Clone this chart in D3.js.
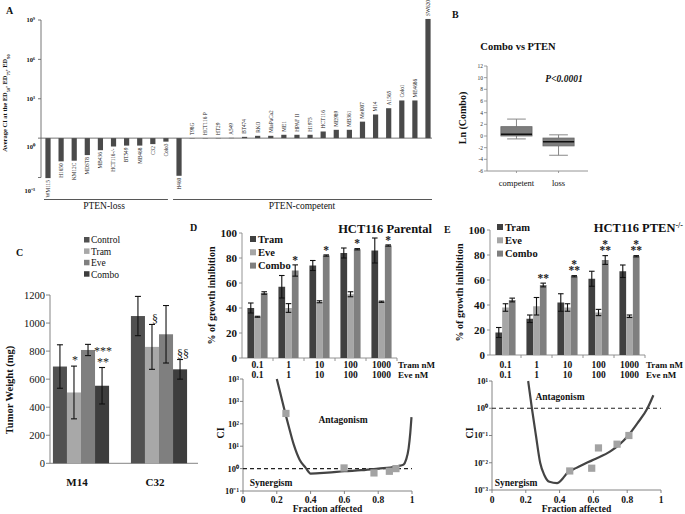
<!DOCTYPE html>
<html>
<head>
<meta charset="utf-8">
<script src="https://cdn.jsdelivr.net/npm/d3@7/dist/d3.min.js"></script>
<style>
html,body{margin:0;padding:0;background:#fff;}
svg{display:block;}
text{font-family:"Liberation Serif","Times New Roman",serif;}
</style>
</head>
<body>
<svg id="fig" width="685" height="514"></svg>
<script>
// ---------------- Panel A data ----------------
const aLossLines = ["WM115","H1650","KM12C","MDST8","MB436","HCT116-/-","BT549","MB468","C32","Colo3"];
const aLossCI = [9e-4, 0.017, 0.019, 0.051, 0.12, 0.23, 0.27, 0.27, 0.35, 0.54];
const aCompLines = ["H460","T98G","HCT116 P","HT29","A549","BT474","RKO","MiaPaCa2","ME1","HPAF II","H1975","HCT116","ME989","MB361","Mel007","M14","A1565","Colo1","ME4686","SW620"];
const aCompCI = [1.35e-3, 1.02, 1.02, 1.03, 1.05, 1.25, 1.5, 1.5, 1.8, 1.8, 1.8, 3.2, 4.3, 4.3, 18, 63, 190, 740, 740, 1.2e9];
const aTickValues = [1e9, 1e6, 1e3, 1, 1e-3];
const aTickLabels = ["10\u2079","10\u2076","10\u00B3","10\u2070","10\u207B\u00B3"];
const aGroupLabels = ["PTEN-loss","PTEN-competent"];

// ---------------- Panel B data ----------------
const bGroups = ["competent","loss"];
const bWhiskerLow = [-0.5, -3.3];
const bQ1 = [0.0, -1.7];
const bMedian = [0.3, -1.0];
const bQ3 = [1.6, -0.35];
const bWhiskerHigh = [2.9, 0.2];
const bTicks = [12,10,8,6,4,2,0,-2,-4,-6];

// ---------------- Panel C data ----------------
const cCategories = ["M14","C32"];
const cSeries = ["Control","Tram","Eve","Combo"];
const cControl = [690, 1050], cControlErr = [155, 140];
const cTram = [505, 830], cTramErr = [188, 160];
const cEve = [808, 920], cEveErr = [40, 205];
const cCombo = [553, 670], cComboErr = [130, 70];
const cControlMarks = [[],[]], cTramMarks = [["*"],["\u00A7"]], cEveMarks = [[],[]], cComboMarks = [["**","***"],["\u00A7\u00A7"]];
const cTicks = [0,200,400,600,800,1000,1200];

// ---------------- Panel D/E data ----------------
const doseTram = ["0.1","1","10","100","1000"];
const doseEve = ["0.1","1","10","100","1000"];
const growthSeries = ["Tram","Eve","Combo"];
const growthTicks = [0,20,40,60,80,100];

const dTram = [40, 57, 74, 84, 86], dTramErr = [4, 9, 4, 4, 10];
const dEve = [33, 40, 45, 51, 45], dEveErr = [0.4, 3.5, 0.8, 2, 0.5];
const dCombo = [52, 70, 82, 87, 90], dComboErr = [1, 4.5, 0.5, 0.5, 0.5];
const dComboMarks = [[],["*"],["*"],["*"],["*"]];

const eTram = [18, 29, 42, 61, 67], eTramErr = [4, 3, 7, 6, 5];
const eEve = [38, 39, 38, 34, 31], eEveErr = [3, 7, 3, 2.5, 1];
const eCombo = [44, 56, 63, 76, 79], eComboErr = [1.5, 1.5, 0.5, 3.5, 0.5];
const eComboMarks = [[],["**"],["**","*"],["**","*"],["**","*"]];

// CI (Fa-CI) plots
const faTicks = [0,0.2,0.4,0.6,0.8,1];
const dCiTicks = [0.1,1,10,100,1000,10000];
const dCiTickLabels = ["10\u207B\u00B9","10\u2070","10\u00B9","10\u00B2","10\u00B3","10\u00B3"];
const dCurveFa = [0.2, 0.22, 0.25, 0.27, 0.3, 0.335, 0.37, 0.4, 0.5, 0.6, 0.7, 0.8, 0.9, 0.93, 0.95, 0.965, 0.98, 0.99, 0.997];
const dCurveCI = [10000, 2500, 300, 80, 12, 2.5, 1.1, 0.6, 0.66, 0.76, 0.85, 1.0, 1.2, 1.35, 1.5, 2.5, 8, 40, 200];
const dPointFa = [0.254, 0.598, 0.775, 0.866, 0.905];
const dPointCI = [290, 1.07, 0.64, 0.76, 1.0];

const eCiTicks = [0.001,0.01,0.1,1,10];
const eCiTickLabels = ["10\u207B\u00B3","10\u207B\u00B2","10\u207B\u00B9","10\u2070","10\u00B9"];
const eCurveFa = [0.214, 0.236, 0.26, 0.285, 0.31, 0.34, 0.385, 0.42, 0.445, 0.5, 0.6, 0.7, 0.8, 0.86, 0.92, 0.955];
const eCurveCI = [10, 1, 0.1, 0.01, 0.0035, 0.002, 0.0018, 0.0027, 0.0042, 0.0065, 0.013, 0.026, 0.09, 0.28, 1.0, 3.0];
const ePointFa = [0.46, 0.59, 0.63, 0.74, 0.81];
const ePointCI = [0.005, 0.0063, 0.035, 0.048, 0.1];

// ---------------- helpers ----------------
const svg = d3.select("#fig");
svg.append("rect").attr("width",685).attr("height",514).attr("fill","#fff");
const SANS = '"Liberation Sans",Arial,sans-serif';
const AX = "#777";

function txt(g, x, y, s, o = {}) {
  const t = g.append("text").attr("x", x).attr("y", y).text(s)
    .attr("font-size", o.size || 10)
    .attr("font-weight", o.bold ? "bold" : "normal")
    .attr("text-anchor", o.anchor || "start")
    .attr("fill", o.fill || "#111");
  if (o.italic) t.attr("font-style", "italic");
  if (o.family) t.attr("font-family", o.family);
  if (o.dy) t.attr("dy", o.dy);
  if (o.rotate) t.attr("transform", `rotate(${o.rotate},${x},${y})`);
  return t;
}
function line(g, x1, y1, x2, y2, c, w, dash) {
  const l = g.append("line").attr("x1",x1).attr("y1",y1).attr("x2",x2).attr("y2",y2)
    .attr("stroke", c || AX).attr("stroke-width", w || 1);
  if (dash) l.attr("stroke-dasharray", dash);
  return l;
}
function errBar(g, x, yTop, yBot, cap) {
  line(g, x, yTop, x, yBot, "#111", 1.1);
  line(g, x - cap, yTop, x + cap, yTop, "#111", 1.1);
  line(g, x - cap, yBot, x + cap, yBot, "#111", 1.1);
}
function mark(g, cx, cy, m, size) {
  const isStar = m.indexOf("*") >= 0;
  const base = isStar ? cy + size * 0.5 : cy + size * 0.33;
  return txt(g, cx, base, m, {size: size, anchor: "middle", fill: "#222"});
}

// ---------------- Panel A ----------------
(function(){
  const g = svg.append("g");
  const names = aLossLines.concat(aCompLines);
  const vals = aLossCI.concat(aCompCI);
  const x = d3.scalePoint().domain(names).range([48, 428]);
  const y = d3.scaleLog().domain([1e-3, 1e9]).range([177.5, 20]);
  const axX = 41;
  txt(g, 6, 14, "A", {size: 10, bold: true});
  line(g, axX, y(1e9), axX, y(1e-3), "#666", 0.9);
  aTickValues.forEach((v, i) => {
    line(g, axX - 3, y(v), axX, y(v), "#666", 0.9);
    const off = v < 1 ? 13 : (v === 1 ? 9 : 0);
    txt(g, axX - 6, y(v) + off, aTickLabels[i], {size: 6.5, bold: true, anchor: "end", dy: "0.35em"});
  });
  line(g, axX, y(1), 432, y(1), "#666", 0.9);
  names.forEach((n, i) => {
    const v = vals[i], y0 = y(1), y1 = y(v);
    g.append("rect").attr("x", x(n) - 2.6).attr("width", 5.2)
      .attr("y", Math.min(y0, y1)).attr("height", Math.max(0.3, Math.abs(y1 - y0)))
      .attr("fill", "#4a4a4a");
    const below = v < 1;
    const ly = below ? y1 + 2 : Math.min(y1, y0) - 3;
    g.append("text").attr("transform", `translate(${x(n)},${ly}) rotate(-90)`)
      .attr("text-anchor", below ? "end" : "start").attr("dy", "0.35em")
      .attr("font-size", 5.3).attr("fill", "#222").text(n);
  });
  const at = g.append("text").attr("transform", "translate(7,103) rotate(-90)")
    .attr("text-anchor", "middle").attr("font-size", 6.5).attr("font-weight", "bold").attr("fill","#111");
  at.append("tspan").text("Average CI at the ED");
  at.append("tspan").attr("baseline-shift", "sub").attr("font-size", 4.5).text("50");
  at.append("tspan").text(", ED");
  at.append("tspan").attr("baseline-shift", "sub").attr("font-size", 4.5).text("75");
  at.append("tspan").text(", ED");
  at.append("tspan").attr("baseline-shift", "sub").attr("font-size", 4.5).text("90");
  line(g, 44, 199.5, x(aLossLines[aLossLines.length-1]) + 2, 199.5, "#444", 0.9);
  line(g, x(aCompLines[0]) - 6, 199.5, 432, 199.5, "#444", 0.9);
  txt(g, 104, 209, aGroupLabels[0], {size: 9.5, anchor: "middle"});
  txt(g, 302, 209, aGroupLabels[1], {size: 9.5, anchor: "middle"});
})();

// ---------------- Panel B ----------------
(function(){
  const g = svg.append("g");
  const y = d3.scaleLinear().domain([-6, 12]).range([171, 66]);
  const x = d3.scaleBand().domain(bGroups).range([487, 588]).paddingInner(0.26).paddingOuter(0.33);
  txt(g, 452, 18, "B", {size: 10, bold: true});
  txt(g, 518, 50, "Combo vs PTEN", {size: 10.5, bold: true, anchor: "middle"});
  txt(g, 564, 82, "P<0.0001", {size: 9.5, bold: true, italic: true, anchor: "middle"});
  line(g, 487, y(12), 487, y(-6), "#888", 0.9);
  bTicks.forEach(t => {
    line(g, 484, y(t), 487, y(t), "#888", 0.8);
    txt(g, 483, y(t), String(t), {size: 5.5, anchor: "end", dy: "0.35em", family: SANS, fill: "#333"});
  });
  line(g, 487, y(-6), 588, y(-6), "#888", 0.9);
  txt(g, 466, 118, "Ln (Combo)", {size: 10, bold: true, anchor: "middle", rotate: -90});
  bGroups.forEach((grp, i) => {
    const cx = x(grp) + x.bandwidth() / 2, bw = x.bandwidth();
    line(g, cx, y(-6), cx, y(-6) + 2, "#888", 0.8);
    line(g, cx, y(bWhiskerHigh[i]), cx, y(bQ3[i]), "#888", 1);
    line(g, cx, y(bQ1[i]), cx, y(bWhiskerLow[i]), "#888", 1);
    line(g, cx - bw * 0.3, y(bWhiskerHigh[i]), cx + bw * 0.3, y(bWhiskerHigh[i]), "#888", 1);
    line(g, cx - bw * 0.3, y(bWhiskerLow[i]), cx + bw * 0.3, y(bWhiskerLow[i]), "#888", 1);
    g.append("rect").attr("x", x(grp)).attr("width", bw).attr("y", y(bQ3[i]))
      .attr("height", y(bQ1[i]) - y(bQ3[i])).attr("fill", "#7d7d7d").attr("stroke", "#666").attr("stroke-width", 0.8);
    line(g, x(grp), y(bMedian[i]), x(grp) + bw, y(bMedian[i]), "#111", 1.5);
    txt(g, cx, 186, grp, {size: 8.5, anchor: "middle"});
  });
})();

// ---------------- Panel C ----------------
(function(){
  const g = svg.append("g");
  const y = d3.scaleLinear().domain([0, 1200]).range([463.3, 295]);
  const x = d3.scaleBand().domain(cCategories).range([42, 198]).paddingInner(0.28).paddingOuter(0.14);
  const xs = d3.scaleBand().domain(cSeries).range([0, x.bandwidth()]);
  const colors = {Control: "#515151", Tram: "#a8a8a8", Eve: "#7f7f7f", Combo: "#3d3d3d"};
  const data = {Control: [cControl, cControlErr, cControlMarks], Tram: [cTram, cTramErr, cTramMarks],
                Eve: [cEve, cEveErr, cEveMarks], Combo: [cCombo, cComboErr, cComboMarks]};
  txt(g, 16, 256, "C", {size: 10, bold: true});
  cSeries.forEach((s, i) => {
    const ly = 240 + i * 11.4;
    g.append("rect").attr("x", 84).attr("y", ly - 3).attr("width", 5.5).attr("height", 5.5).attr("fill", colors[s]);
    txt(g, 91, ly, s, {size: 9.5, dy: "0.35em"});
  });
  line(g, 50, y(0), 50, y(1200), "#777", 0.9);
  line(g, 50, y(0), 198, y(0), "#777", 0.9);
  cTicks.forEach(t => {
    line(g, 46, y(t), 50, y(t), "#777", 0.9);
    txt(g, 45, y(t), String(t), {size: 10.5, anchor: "end", dy: "0.35em"});
  });
  txt(g, 13, 390, "Tumor Weight (mg)", {size: 10.5, bold: true, anchor: "middle", rotate: -90});
  cCategories.forEach((cat, ci) => {
    txt(g, x(cat) + x.bandwidth() / 2 - 4, 486, cat, {size: 11, bold: true, anchor: "middle"});
    cSeries.forEach(s => {
      const v = data[s][0][ci], e = data[s][1][ci], marks = data[s][2][ci];
      const bx = x(cat) + xs(s);
      g.append("rect").attr("x", bx).attr("width", xs.bandwidth()).attr("y", y(v))
        .attr("height", y(0) - y(v)).attr("fill", colors[s]);
      const cx = bx + xs.bandwidth() / 2;
      errBar(g, cx, y(v + e), y(v - e), 3);
      marks.forEach((m, k) => {
        const isStar = m.indexOf("*") >= 0;
        mark(g, cx + (isStar ? 1 : 3), y(v + e) - (isStar ? 8 : 5) - k * 11, m, 12);
      });
    });
  });
})();

// ---------------- Panels D & E: growth bars ----------------
function growthPanel(o) {
  const g = svg.append("g");
  const y = d3.scaleLinear().domain([0, 100]).range([o.y0, o.y0 - 125]);
  const x = d3.scaleBand().domain(doseTram).range([o.x0, o.x0 + 155]).paddingInner(0.35).paddingOuter(0.175);
  const xs = d3.scaleBand().domain(growthSeries).range([0, x.bandwidth()]);
  const colors = {Tram: "#404040", Eve: "#a6a6a6", Combo: "#7f7f7f"};
  txt(g, o.letterX, o.letterY, o.letter, {size: 10, bold: true});
  const tt = txt(g, o.titleEnd, o.titleY, o.title, {size: 12.5, bold: true, anchor: "end"});
  if (o.titleSup) tt.append("tspan").attr("baseline-shift", "super").attr("font-size", 8).text(o.titleSup);
  growthSeries.forEach((s, i) => {
    const ly = o.legY + i * 13.3;
    g.append("rect").attr("x", o.legX).attr("y", ly - 3).attr("width", 6).attr("height", 6).attr("fill", colors[s]);
    txt(g, o.legX + 8, ly, s, {size: 10.5, bold: true, dy: "0.35em"});
  });
  line(g, o.x0, y(0), o.x0, y(100), "#888", 0.9);
  line(g, o.x0, y(0), o.x0 + 155, y(0), "#888", 0.9);
  growthTicks.forEach(t => {
    line(g, o.x0 - 3, y(t), o.x0, y(t), "#888", 0.9);
    txt(g, o.x0 - 5, y(t), String(t), {size: 11, bold: true, anchor: "end", dy: "0.35em"});
  });
  doseTram.forEach((d, i) => {
    const bx = o.x0 + (i + 1) * 31;
    line(g, bx, y(0), bx, y(0) + 3, "#888", 0.9);
  });
  txt(g, o.x0 - 27, (y(0) + y(100)) / 2, "% of growth inhibition", {size: 10, bold: true, anchor: "middle", rotate: -90});
  const vals = {Tram: [o.tram, o.tramErr], Eve: [o.eve, o.eveErr], Combo: [o.combo, o.comboErr]};
  doseTram.forEach((d, i) => {
    const cx0 = x(d) + x.bandwidth() / 2;
    txt(g, cx0, 368, d, {size: 9.5, bold: true, anchor: "middle"});
    txt(g, cx0, 377.5, doseEve[i], {size: 9.5, bold: true, anchor: "middle"});
    growthSeries.forEach(s => {
      const v = vals[s][0][i], e = vals[s][1][i];
      const bx = x(d) + xs(s);
      g.append("rect").attr("x", bx).attr("width", xs.bandwidth()).attr("y", y(v))
        .attr("height", y(0) - y(v)).attr("fill", colors[s]);
      errBar(g, bx + xs.bandwidth() / 2, y(v + e), y(v - e), 2.8);
    });
    const cx = x(d) + xs("Combo") + xs.bandwidth() / 2;
    const top = y(o.combo[i] + o.comboErr[i]);
    o.comboMarks[i].forEach((m, k) => {
      mark(g, cx, top - 7 - k * 6.2, m, 11.5).attr("font-weight", "bold");
    });
  });
  txt(g, o.x0 + 156, 368, "Tram nM", {size: 9, bold: true});
  txt(g, o.x0 + 156, 377.5, "Eve nM", {size: 9, bold: true});
}

growthPanel({x0: 242, y0: 358, letter: "D", letterX: 190, letterY: 231, title: "HCT116 Parental", titleEnd: 432, titleY: 233,
  legX: 250, legY: 239, tram: dTram, tramErr: dTramErr, eve: dEve, eveErr: dEveErr, combo: dCombo, comboErr: dComboErr, comboMarks: dComboMarks});
growthPanel({x0: 490, y0: 355, letter: "E", letterX: 444, letterY: 233, title: "HCT116 PTEN", titleSup: "-/-", titleEnd: 683, titleY: 232,
  legX: 497, legY: 227, tram: eTram, tramErr: eTramErr, eve: eEve, eveErr: eEveErr, combo: eCombo, comboErr: eComboErr, comboMarks: eComboMarks});

// ---------------- Panels D & E: Fa-CI plots ----------------
function ciPanel(o) {
  const g = svg.append("g");
  const x = d3.scaleLinear().domain([0, 1]).range([o.x0, o.x0 + 169]);
  const y = d3.scaleLog().domain(o.yDomain).range([o.yBot, o.yTop]);
  line(g, o.x0, o.yBot, o.x0, o.yTop, "#777", 0.9);
  line(g, o.x0, o.yBot, x(1), o.yBot, "#777", 0.9);
  o.ticks.forEach((t, i) => {
    line(g, o.x0 - 3, y(t), o.x0, y(t), "#777", 0.9);
    txt(g, o.x0 - 4, y(t), o.tickLabels[i], {size: 8.5, bold: true, anchor: "end", dy: "0.35em"});
  });
  faTicks.forEach(t => {
    line(g, x(t), o.yBot, x(t), o.yBot + 3, "#777", 0.9);
    txt(g, x(t), 503, String(t), {size: 9.5, bold: true, anchor: "middle"});
  });
  txt(g, x(0.5), 512, "Fraction affected", {size: 9.5, bold: true, anchor: "middle"});
  txt(g, o.x0 - 19, 433, "CI", {size: 10, bold: true, anchor: "middle", rotate: -90});
  line(g, o.x0, y(1), x(1), y(1), "#222", 1.1, "4,3");
  const pts = o.curveFa.map((f, i) => [f, o.curveCI[i]]);
  g.append("path").attr("d", d3.line().x(d => x(d[0])).y(d => y(d[1])).curve(d3.curveMonotoneX)(pts))
    .attr("fill", "none").attr("stroke", "#444").attr("stroke-width", 2.2);
  o.pointFa.forEach((f, i) => {
    g.append("rect").attr("x", x(f) - 3.6).attr("y", y(o.pointCI[i]) - 3.6).attr("width", 7.2).attr("height", 7.2).attr("fill", "#a3a3a3");
  });
  txt(g, o.antX, o.antY, "Antagonism", {size: 9.5, bold: true, anchor: "middle"});
  txt(g, o.synX, o.synY, "Synergism", {size: 9.5, bold: true, anchor: "middle"});
}

ciPanel({x0: 243, yBot: 491, yTop: 379, yDomain: [0.1, 10000], ticks: dCiTicks, tickLabels: dCiTickLabels,
  curveFa: dCurveFa, curveCI: dCurveCI, pointFa: dPointFa, pointCI: dPointCI, antX: 343, antY: 423, synX: 271, synY: 486});
ciPanel({x0: 492, yBot: 490, yTop: 381, yDomain: [0.001, 10], ticks: eCiTicks, tickLabels: eCiTickLabels,
  curveFa: eCurveFa, curveCI: eCurveCI, pointFa: ePointFa, pointCI: ePointCI, antX: 560, antY: 400, synX: 516, synY: 486});
</script>
</body>
</html>
